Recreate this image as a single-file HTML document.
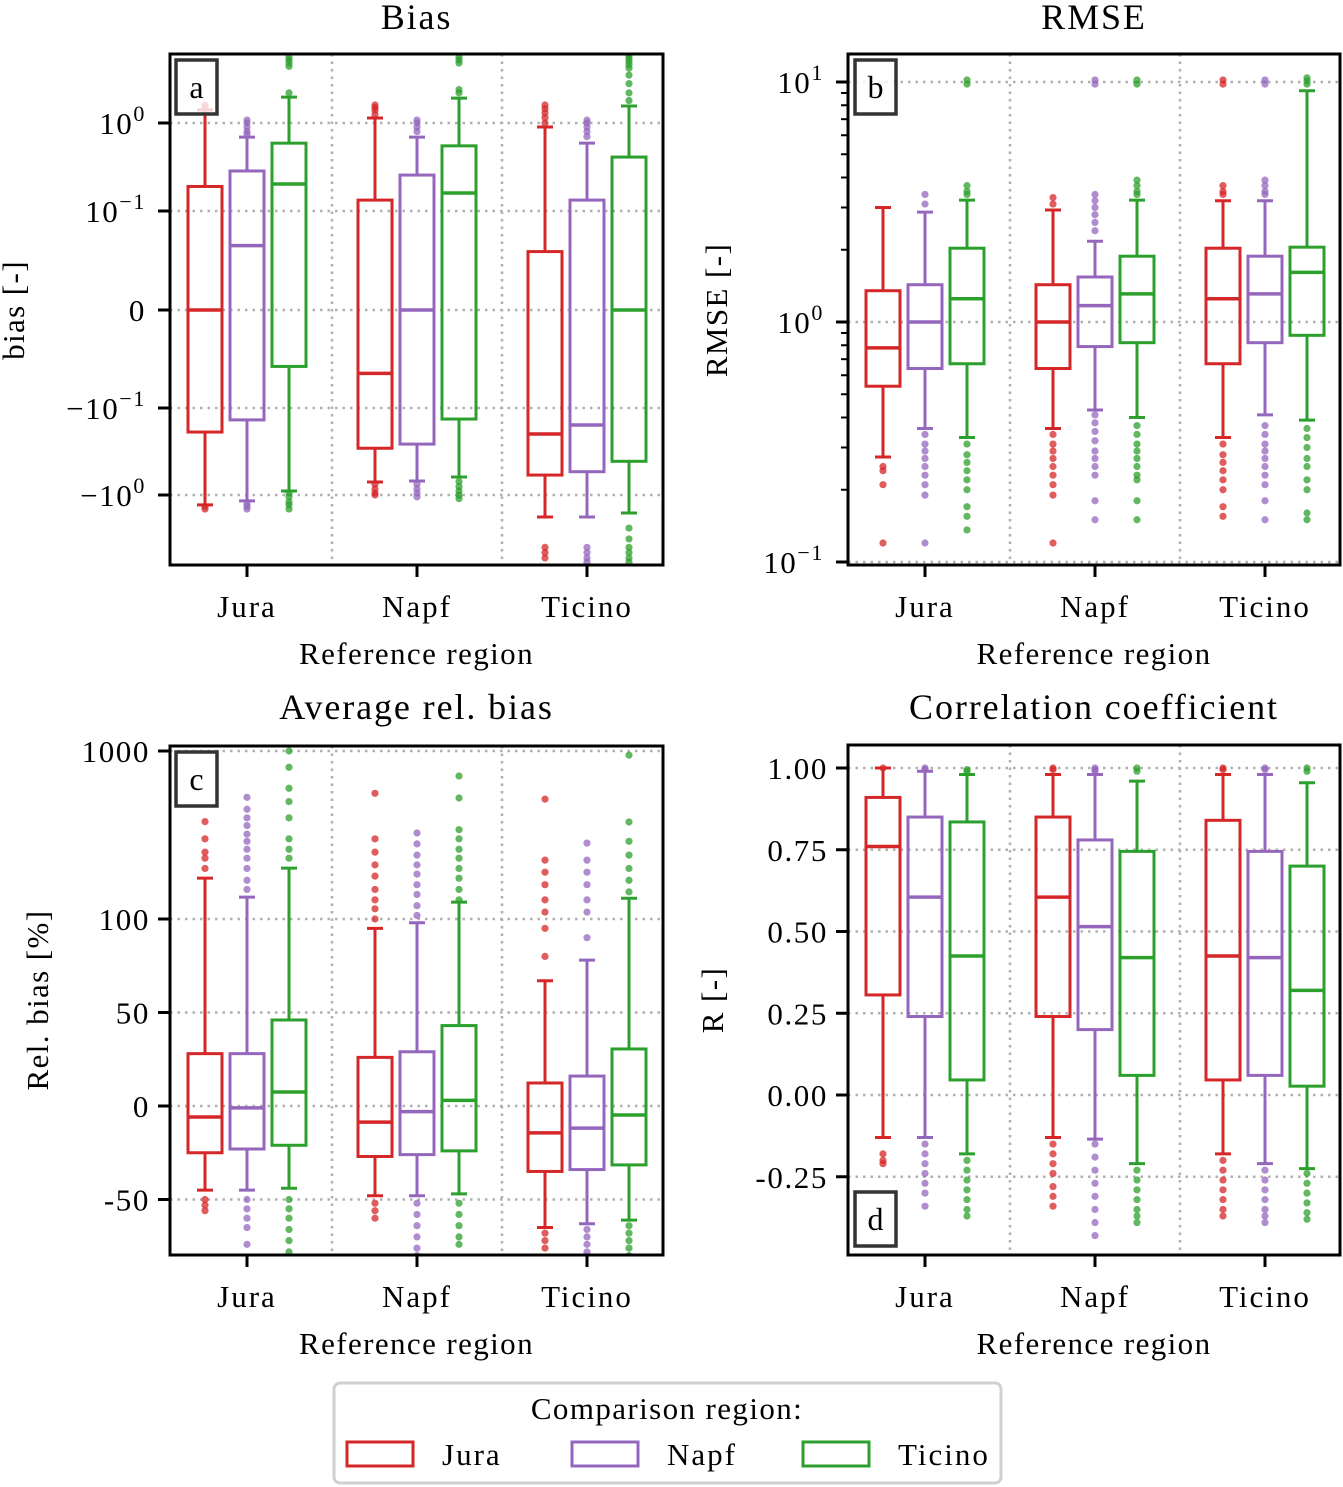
<!DOCTYPE html>
<html><head><meta charset="utf-8"><style>
body{margin:0;background:#fff}
svg{display:block;font-family:"Liberation Serif",serif}
</style></head><body>
<svg id="fig" width="1343" height="1487" viewBox="0 0 1343 1487" xmlns="http://www.w3.org/2000/svg"></svg>
<script>
const categories = ["Jura","Napf","Ticino"];
const seriesNames = ["Jura","Napf","Ticino"];

const biasHi  = [1.41, 0.69, 1.97, 1.14, 0.69, 1.92, 0.90, 0.59, 1.56];
const biasQ3  = [0.19, 0.285, 0.59, 0.133, 0.256, 0.55, 0.059, 0.133, 0.41];
const biasMed = [0, 0.065, 0.203, -0.064, 0, 0.16, -0.199, -0.157, 0];
const biasQ1  = [-0.189, -0.137, -0.057, -0.29, -0.26, -0.134, -0.59, -0.54, -0.41];
const biasLo  = [-1.30, -1.17, -0.90, -0.71, -0.69, -0.62, -1.79, -1.79, -1.61];
const biasFliers = [
 [1.6,1.5,-1.35,-1.45],
 [1.08,1.0,0.9,0.8,0.75,-1.25,-1.35,-1.45],
 [5.6,5.2,4.8,4.4,2.2,-0.95,-1.05,-1.2,-1.3,-1.45],
 [1.6,1.5,1.4,1.25,-0.75,-0.85,-0.95,-1.0],
 [1.08,1.0,0.9,0.8,-0.75,-0.85,-0.95,-1.05],
 [5.6,5.2,4.8,2.4,2.2,-0.7,-0.8,-0.9,-1.0,-1.1],
 [1.6,1.45,1.3,1.15,1.0,-4.0,-4.6,-5.3],
 [1.08,1.0,0.9,0.8,0.7,-4.0,-4.6,-5.3,-5.9],
 [5.8,5.4,5.0,4.6,4.2,3.5,2.8,2.2,1.8,-2.4,-3.2,-4.0,-4.6,-5.3,-5.9]
];
const biasTicks = [1, 0.1, 0, -0.1, -1];

const rmseHi  = [3.0, 2.87, 3.22, 2.93, 2.17, 3.22, 3.2, 3.2, 9.2];
const rmseQ3  = [1.35, 1.43, 2.03, 1.43, 1.54, 1.88, 2.03, 1.88, 2.05];
const rmseMed = [0.78, 1.0, 1.25, 1.0, 1.17, 1.31, 1.25, 1.31, 1.61];
const rmseQ1  = [0.54, 0.64, 0.67, 0.64, 0.79, 0.82, 0.67, 0.82, 0.88];
const rmseLo  = [0.274, 0.36, 0.33, 0.36, 0.43, 0.40, 0.33, 0.41, 0.39];
const rmseFliers = [
 [0.25,0.24,0.21,0.12],
 [3.4,3.1,0.34,0.31,0.29,0.27,0.25,0.23,0.21,0.19,0.12],
 [10.2,9.8,3.7,3.5,3.4,0.31,0.28,0.26,0.24,0.22,0.2,0.17,0.155,0.136],
 [3.3,3.1,0.34,0.31,0.29,0.27,0.25,0.23,0.21,0.19,0.12],
 [10.2,9.8,3.4,3.2,3.0,2.8,2.6,2.4,0.41,0.38,0.35,0.32,0.29,0.27,0.25,0.23,0.18,0.15],
 [10.2,9.8,3.9,3.7,3.5,3.4,0.37,0.34,0.31,0.29,0.27,0.25,0.23,0.22,0.18,0.15],
 [10.2,9.8,3.7,3.5,3.4,0.31,0.28,0.26,0.24,0.22,0.2,0.17,0.155],
 [10.2,9.8,3.9,3.7,3.5,3.4,0.37,0.34,0.31,0.29,0.27,0.25,0.23,0.21,0.18,0.15],
 [10.4,10.1,9.8,0.36,0.33,0.3,0.27,0.25,0.22,0.2,0.16,0.15]
];
const rmseTicks = [10, 1, 0.1];

const relHi  = [175, 135, 201, 95, 98, 126, 67, 78, 133];
const relQ3  = [28, 28, 46, 26, 29, 43, 12.3, 16, 30.5];
const relMed = [-5.9, -1, 7.5, -8.6, -3, 3, -14.4, -11.8, -4.8];
const relQ1  = [-25, -23, -21, -27, -26, -24, -35, -34, -31.5];
const relLo  = [-45, -45, -44, -48, -48, -47, -65, -63, -61];
const relFliers = [
 [380,300,250,230,200,-50,-53,-56],
 [530,450,400,360,320,290,260,230,200,170,150,-50,-55,-60,-65,-74],
 [1000,800,600,500,400,300,260,230,-50,-55,-60,-66,-72,-78],
 [560,300,250,210,180,150,130,115,100,-52,-56,-60],
 [325,280,240,210,185,160,140,120,105,-52,-58,-64,-70,-76,-80],
 [710,525,340,300,260,230,200,175,150,130,-52,-58,-64,-70,-74],
 [517,224,190,160,130,110,95,80,-68,-72,-76],
 [283,224,190,160,130,110,90,-66,-70,-74,-78],
 [945,378,290,240,200,170,145,-64,-68,-72,-76,-80]
];
const relTicks = [1000, 100, 50, 0, -50];
const relTickLabels = ["1000","100","50","0","-50"];

const rHi  = [1.0, 0.99, 0.98, 0.98, 0.98, 0.96, 0.98, 0.98, 0.955];
const rQ3  = [0.91, 0.85, 0.835, 0.85, 0.78, 0.745, 0.84, 0.745, 0.70];
const rMed = [0.76, 0.605, 0.425, 0.605, 0.515, 0.42, 0.425, 0.42, 0.32];
const rQ1  = [0.306, 0.24, 0.046, 0.24, 0.2, 0.06, 0.046, 0.06, 0.027];
const rLo  = [-0.13, -0.13, -0.18, -0.13, -0.135, -0.21, -0.18, -0.21, -0.225];
const rFliers = [
 [1.0,-0.18,-0.2,-0.21],
 [1.0,0.995,-0.15,-0.18,-0.21,-0.24,-0.27,-0.3,-0.34],
 [0.995,0.99,-0.2,-0.23,-0.26,-0.29,-0.32,-0.35,-0.37],
 [1.0,0.995,-0.15,-0.18,-0.21,-0.24,-0.28,-0.31,-0.34],
 [1.0,0.995,0.99,-0.15,-0.19,-0.23,-0.27,-0.31,-0.35,-0.39,-0.43],
 [1.0,0.99,-0.23,-0.26,-0.29,-0.32,-0.35,-0.37,-0.39],
 [1.0,0.995,-0.2,-0.23,-0.26,-0.29,-0.32,-0.35,-0.37],
 [1.0,0.995,-0.23,-0.26,-0.29,-0.32,-0.35,-0.37,-0.39],
 [1.0,0.99,-0.24,-0.27,-0.3,-0.33,-0.36,-0.38]
];
const rTicks = [1, 0.75, 0.5, 0.25, 0, -0.25];
const rTickLabels = ["1.00","0.75","0.50","0.25","0.00","-0.25"];

const colors = ["#d62728","#9467bd","#2ca02c"];
const NS = "http://www.w3.org/2000/svg";
const svg = document.getElementById("fig");

function mk(tag, attrs, parent){
  const e = document.createElementNS(NS, tag);
  for (const k in attrs) e.setAttribute(k, attrs[k]);
  (parent||svg).appendChild(e);
  return e;
}

function yBias(v){
  if (v >= 0.1) return 211 - 88*Math.log10(v/0.1);
  if (v <= -0.1) return 408 + 87*Math.log10(-v/0.1);
  return 310 - 990*v;
}
function yRmse(v){ return 322 - 240*Math.log10(v); }
function yRel(v){
  if (v > 100) return 919 - 168*Math.log10(v/100);
  return 1106 - 1.87*v;
}
function yR(v){ return 1095 - 327*v; }

const LS = 1.6;

function supLabel(g, x, y, base, exp, name){
  const t = mk("text", {x:x, y:y, "text-anchor":"end", "font-size":31, "letter-spacing":LS, fill:"#000"}, g);
  
  
  t.appendChild(document.createTextNode(base));
  if (exp){
    const s = mk("tspan", {dy:-13, "font-size":22}, t);
    s.textContent = exp;
  }
  return t;
}

function panel(cfg){
  const g = mk("g", {});
  
  
  const {x0,x1,y0,y1,y} = cfg;
  const groupX = i => x0 + 77 + 170*i;
  cfg.ticks.forEach((tv,i)=>{
    const yy = y(tv);
    const gl = mk("line", {x1:x0, x2:x1, y1:yy, y2:yy, stroke:"#b0b0b0", "stroke-width":2.5, "stroke-dasharray":"2.5,5"}, g);
    
    
    const tk = mk("line", {x1:x0-12, x2:x0, y1:yy, y2:yy, stroke:"#000", "stroke-width":3}, g);
    
    
    if (cfg.supLabels){
      const L = cfg.supLabels[i];
      supLabel(g, x0-24, yy+11, L[0], L[1], 'y-tick-label');
    } else {
      const t = mk("text", {x:x0-20, y:yy+11, "text-anchor":"end", "font-size":31, "letter-spacing":LS}, g);
      
      
      t.textContent = cfg.tickLabels[i];
    }
  });
  if (cfg.minor){
    cfg.minor.forEach(mv=>{
      const yy = y(mv);
      if (yy < y0 || yy > y1) return;
      const m = mk("line", {x1:x0-7, x2:x0, y1:yy, y2:yy, stroke:"#000", "stroke-width":2}, g);
      
      
    });
  }
  [0,1].forEach(i=>{
    const xx = (groupX(i)+groupX(i+1))/2;
    const vl = mk("line", {x1:xx, x2:xx, y1:y0, y2:y1, stroke:"#b0b0b0", "stroke-width":2.5, "stroke-dasharray":"2.5,5"}, g);
    
    
  });
  const cid = "clip-"+cfg.name;
  const cp = mk("clipPath", {id:cid}, g);
  mk("rect", {x:x0, y:y0, width:x1-x0, height:y1-y0}, cp);
  const bg = mk("g", {"clip-path":"url(#"+cid+")"}, g);
  for (let k=0;k<9;k++){
    const gi = Math.floor(k/3), si = k%3;
    const cx = groupX(gi) + (si-1)*42;
    const c = colors[si];
    const bx = mk("g", {}, bg);
    
    
    const yHi=y(cfg.hi[k]), yQ3=y(cfg.q3[k]), yMed=y(cfg.med[k]), yQ1=y(cfg.q1[k]), yLo=y(cfg.lo[k]);
    cfg.fl[k].forEach(fv=>{
      const d = mk("circle", {cx:cx, cy:y(fv), r:3.6, fill:c, "fill-opacity":0.75}, bx);
      
      
    });
    const w = mk("path", {d:`M${cx},${yQ3}V${yHi}M${cx-8},${yHi}H${cx+8}M${cx},${yQ1}V${yLo}M${cx-8},${yLo}H${cx+8}`, stroke:c, "stroke-width":3, fill:"none"}, bx);
    
    
    const r = mk("rect", {x:cx-17, y:yQ3, width:34, height:yQ1-yQ3, fill:"none", stroke:c, "stroke-width":3}, bx);
    
    
    const m = mk("line", {x1:cx-17, x2:cx+17, y1:yMed, y2:yMed, stroke:c, "stroke-width":3.5}, bx);
    
    
  }
  const fr = mk("rect", {x:x0, y:y0, width:x1-x0, height:y1-y0, fill:"none", stroke:"#000", "stroke-width":3}, g);
  
  
  categories.forEach((cn,i)=>{
    const xx = groupX(i);
    const tk = mk("line", {x1:xx, x2:xx, y1:y1, y2:y1+12, stroke:"#000", "stroke-width":3}, g);
    
    
    const t = mk("text", {x:xx, y:y1+52, "text-anchor":"middle", "font-size":31, "letter-spacing":2}, g);
    
    
    t.textContent = cn;
  });
  const xl = mk("text", {x:(x0+x1)/2, y:y1+99, "text-anchor":"middle", "font-size":31, "letter-spacing":1.4}, g);
  
  
  xl.textContent = "Reference region";
  const ti = mk("text", {x:(x0+x1)/2, y:cfg.titleY, "text-anchor":"middle", "font-size":36, "letter-spacing":1.9}, g);
  
  
  ti.textContent = cfg.title;
  const yl = mk("text", {x:0, y:0, "text-anchor":"middle", "font-size":31, "letter-spacing":1.4, transform:`translate(${cfg.ylX},${cfg.ylY}) rotate(-90)`}, g);
  
  
  yl.textContent = cfg.ylabel;
  const lb = mk("g", {}, g);
  
  
  mk("rect", {x:cfg.lx, y:cfg.ly, width:41, height:54, fill:"#fff", "fill-opacity":0.8, stroke:"#333", "stroke-width":3.5}, lb);
  const lt = mk("text", {x:cfg.lx+20.5, y:cfg.ly+38, "text-anchor":"middle", "font-size":32}, lb);
  lt.textContent = cfg.letter;
}

const rmseMinor = [];
[0.1,1].forEach(d=>{ for(let m=2;m<=9;m++) rmseMinor.push(d*m); });
rmseMinor.push(20);

panel({name:"panel-bias", x0:170,x1:663,y0:54,y1:565, y:yBias, ticks:biasTicks,
  supLabels:[["10","0"],["10","−1"],["0",""],["−10","−1"],["−10","0"]],
  hi:biasHi,q3:biasQ3,med:biasMed,q1:biasQ1,lo:biasLo,fl:biasFliers,
  title:"Bias", titleY:29, ylabel:"bias [-]", ylX:24, ylY:310, lx:176, ly:60, letter:"a"});
panel({name:"panel-rmse", x0:848,x1:1340,y0:54,y1:565, y:yRmse, ticks:rmseTicks, minor:rmseMinor,
  supLabels:[["10","1"],["10","0"],["10","−1"]],
  hi:rmseHi,q3:rmseQ3,med:rmseMed,q1:rmseQ1,lo:rmseLo,fl:rmseFliers,
  title:"RMSE", titleY:29, ylabel:"RMSE [-]", ylX:727, ylY:310, lx:855, ly:60, letter:"b"});
panel({name:"panel-relbias", x0:170,x1:663,y0:746,y1:1255, y:yRel, ticks:relTicks, tickLabels:relTickLabels,
  hi:relHi,q3:relQ3,med:relMed,q1:relQ1,lo:relLo,fl:relFliers,
  title:"Average rel. bias", titleY:719, ylabel:"Rel. bias [%]", ylX:48, ylY:1000, lx:176, ly:752, letter:"c"});
panel({name:"panel-correlation", x0:848,x1:1340,y0:745,y1:1255, y:yR, ticks:rTicks, tickLabels:rTickLabels,
  hi:rHi,q3:rQ3,med:rMed,q1:rQ1,lo:rLo,fl:rFliers,
  title:"Correlation coefficient", titleY:719, ylabel:"R [-]", ylX:723, ylY:1000, lx:855, ly:1192, letter:"d"});

const lg = mk("g", {});


mk("rect", {x:334, y:1383, width:667, height:100, rx:6, fill:"#fff", stroke:"#d0d0d0", "stroke-width":3}, lg);
const lt = mk("text", {x:667, y:1419, "text-anchor":"middle", "font-size":31, "letter-spacing":1.4}, lg);


lt.textContent = "Comparison region:";
const patchX = [347, 572, 803];
seriesNames.forEach((sn,i)=>{
  const e = mk("g", {}, lg);
  
  
  mk("rect", {x:patchX[i], y:1442, width:66, height:24, fill:"none", stroke:colors[i], "stroke-width":3}, e);
  const t = mk("text", {x:patchX[i]+95, y:1465, "font-size":31, "letter-spacing":2}, e);
  t.textContent = sn;
});
</script>
</body></html>
